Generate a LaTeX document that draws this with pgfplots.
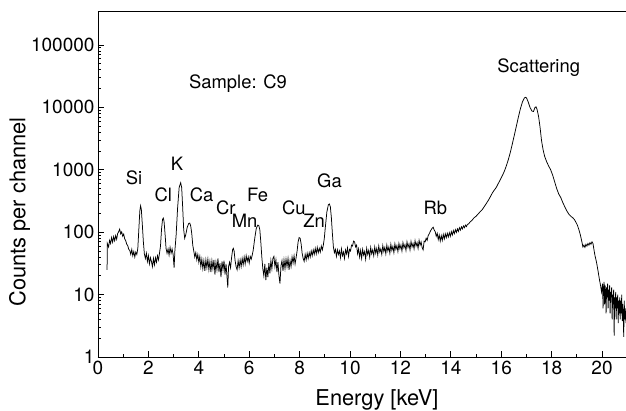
\documentclass[border=0pt]{standalone}
\usepackage{fontspec}
\setmainfont{TeX Gyre Heros}
\usepackage{pgfplots}
\pgfplotsset{compat=1.18}
\newcommand{\tf}{\fontsize{18.4}{22}\selectfont}
\newcommand{\kf}{\fontsize{19}{22}\selectfont}
\newcommand{\lf}{\fontsize{21.8}{25}\selectfont}
\begin{document}
\begin{tikzpicture}
\begin{axis}[
  scale only axis, width=528pt, height=346pt,
  xmin=0, xmax=20.95, ymode=log, ymin=1, ymax=350000,
  axis y line*=left, axis x line*=box,
  xtick pos=left, ytick pos=left,
  tick align=inside,
  major tick length=6pt, minor tick length=3.5pt,
  xtick={0,2,...,20}, minor x tick num=1,
  ytick={1,10,100,1000,10000,100000},
  yticklabels={1,10,100,1000,10000,100000},
  /pgf/number format/assume math mode=true,
  ticklabel style={font=\kf},
  every axis plot/.append style={line width=0.75pt},
  axis line style={line width=0.9pt},
  every tick/.style={line width=0.8pt, black},
  xlabel={Energy [keV]}, ylabel={Counts per channel},
  label style={font=\lf},
  xlabel style={at={(rel axis cs:0.5284,-0.1416)}, anchor=base},
  ylabel style={at={(rel axis cs:-0.1487,0.419)}, anchor=center},
  clip=true,
]
\addplot[black, mark=none] table {
0.36 25
0.37 66
0.42 58
0.46 74
0.50 66
0.54 82
0.58 69
0.62 85
0.66 73
0.70 88
0.74 77
0.78 95
0.82 102
0.86 112
0.90 94
0.94 101
0.98 86
1.02 93
1.06 78
1.10 73
1.14 64
1.18 61
1.22 53
1.26 51
1.30 44
1.34 53
1.38 42
1.42 49
1.46 40
1.50 48
1.54 44
1.58 55
1.62 110
1.66 220
1.69 265
1.72 230
1.76 130
1.80 70
1.84 45
1.88 38
1.92 46
1.96 34
2.00 42
2.04 31
2.08 39
2.12 34
2.16 28
2.20 38
2.24 30
2.28 39
2.32 33
2.36 42
2.40 36
2.44 46
2.48 60
2.52 110
2.56 160
2.59 168
2.62 150
2.66 95
2.70 55
2.74 46
2.78 54
2.82 43
2.86 57
2.90 46
2.94 54
2.98 44
3.02 27
3.05 50
3.10 90
3.16 250
3.22 520
3.28 620
3.32 520
3.36 250
3.40 110
3.44 80
3.48 90
3.54 120
3.60 138
3.64 140
3.68 125
3.72 95
3.76 62
3.80 50
3.84 40
3.88 47
3.92 36
3.96 44
4.00 33
4.04 41
4.08 28
4.12 37
4.16 26
4.20 35
4.24 24
4.28 36
4.32 27
4.36 37
4.40 25
4.44 34
4.48 23
4.52 35
4.56 26
4.60 36
4.64 21
4.68 33
4.72 25
4.76 38
4.80 23
4.84 32
4.88 19
4.92 34
4.96 25
5.00 35
5.04 21
5.08 31
5.12 19
5.15 13
5.18 28
5.22 33
5.26 27
5.30 39
5.34 52
5.37 55
5.40 50
5.44 35
5.48 28
5.52 25
5.56 35
5.60 27
5.64 36
5.68 28
5.72 38
5.76 30
5.80 40
5.84 31
5.88 42
5.92 34
5.96 40
6.00 32
6.04 41
6.08 37
6.12 43
6.16 52
6.22 80
6.28 115
6.34 130
6.38 128
6.42 110
6.46 70
6.50 40
6.54 26
6.58 20
6.62 31
6.66 17
6.70 27
6.74 19
6.78 32
6.82 22
6.86 35
6.90 26
6.94 38
6.98 41
7.02 28
7.06 36
7.10 23
7.14 33
7.18 20
7.22 15
7.26 29
7.30 35
7.34 24
7.38 36
7.42 26
7.46 37
7.50 28
7.54 38
7.58 25
7.62 35
7.66 28
7.70 40
7.74 32
7.78 42
7.82 31
7.86 39
7.90 50
7.94 70
7.98 82
8.02 80
8.06 65
8.10 46
8.14 38
8.18 34
8.22 44
8.26 36
8.30 46
8.34 38
8.38 47
8.42 40
8.46 50
8.50 42
8.54 52
8.58 44
8.62 55
8.66 45
8.70 57
8.74 47
8.78 55
8.82 48
8.86 60
8.90 52
8.94 62
8.98 80
9.02 120
9.08 210
9.14 275
9.18 283
9.22 255
9.26 170
9.30 95
9.34 58
9.38 47
9.42 53
9.46 41
9.50 52
9.54 44
9.58 50
9.62 39
9.66 54
9.70 42
9.74 48
9.78 38
9.82 52
9.86 45
9.90 56
9.94 41
9.98 53
10.02 50
10.06 62
10.10 60
10.14 72
10.18 70
10.22 58
10.26 62
10.30 45
10.34 54
10.38 40
10.42 51
10.46 38
10.50 53
10.54 43
10.58 49
10.62 37
10.66 55
10.70 44
10.74 51
10.78 40
10.82 57
10.86 45
10.90 52
10.94 42
10.98 58
11.02 46
11.06 55
11.10 43
11.14 60
11.18 48
11.22 54
11.26 44
11.30 61
11.34 49
11.38 57
11.42 45
11.46 62
11.50 50
11.54 58
11.58 46
11.62 64
11.66 51
11.70 59
11.74 47
11.78 65
11.82 53
11.86 61
11.90 49
11.94 66
11.98 54
12.02 62
12.06 50
12.10 68
12.14 56
12.18 63
12.22 51
12.26 70
12.30 57
12.34 65
12.38 52
12.42 71
12.46 58
12.50 66
12.54 54
12.58 73
12.62 60
12.66 68
12.70 55
12.74 74
12.78 62
12.82 70
12.86 57
12.90 52
12.94 72
12.98 70
13.02 80
13.06 74
13.10 88
13.14 94
13.20 106
13.26 116
13.30 120
13.34 108
13.38 102
13.42 86
13.46 96
13.50 76
13.54 90
13.58 72
13.62 88
13.66 74
13.70 92
13.74 78
13.78 94
13.82 82
13.86 96
13.90 84
13.94 98
13.98 86
14.02 102
14.06 90
14.10 106
14.14 95
14.18 110
14.22 99
14.26 113
14.30 103
14.34 118
14.38 108
14.42 122
14.46 113
14.50 126
14.54 118
14.58 130
14.62 123
14.66 134
14.70 135
14.76 145
14.84 155
14.92 170
15.00 180
15.08 195
15.16 212
15.24 228
15.32 255
15.40 285
15.48 320
15.56 365
15.64 420
15.72 470
15.80 520
15.88 600
15.96 690
16.04 800
16.12 940
16.20 1150
16.28 1450
16.36 1900
16.44 2600
16.52 3600
16.60 5000
16.68 7000
16.76 9500
16.84 12200
16.92 14200
16.96 14500
17.00 14200
17.06 12500
17.14 10000
17.22 8700
17.28 8600
17.34 10000
17.38 10200
17.42 9300
17.48 7200
17.54 4800
17.60 2900
17.66 2100
17.72 1650
17.80 1350
17.88 1150
17.96 1000
18.04 820
18.12 640
18.20 500
18.28 410
18.36 360
18.44 300
18.52 255
18.60 220
18.68 195
18.76 180
18.84 170
18.90 160
18.96 145
19.02 130
19.08 110
19.14 90
19.20 70
19.24 58
19.28 62
19.32 57
19.36 64
19.40 60
19.44 66
19.48 62
19.52 68
19.56 64
19.60 70
19.64 66
19.68 52
19.72 42
19.78 33
19.84 24
19.90 17
19.94 14
19.98 11
20.02 15
20.04 6
20.06 13
20.08 16
20.10 7
20.12 14
20.14 11
20.16 5
20.18 13
20.20 9
20.22 15
20.24 6
20.26 12
20.28 8
20.30 14
20.32 5
20.34 11
20.36 9
20.38 13
20.40 4
20.42 10
20.44 7
20.46 12
20.48 2.2
20.50 9
20.52 6
20.54 11
20.56 4
20.58 9
20.60 6
20.62 10
20.64 3.5
20.66 8
20.68 5
20.70 9
20.72 4
20.74 8
20.76 5
20.78 10
20.80 3.8
20.82 7
20.84 4.5
20.86 2.1
20.88 8
20.90 4
20.92 6
20.95 3.5
};
\begin{scope}[every node/.style={font=\tf, anchor=base, inner sep=0pt}]
\node at (rel axis cs:0.0682,0.4977) {Si};
\node at (rel axis cs:0.1496,0.538) {K};
\node at (rel axis cs:0.1237,0.4494) {Cl};
\node at (rel axis cs:0.1964,0.4494) {Ca};
\node at (rel axis cs:0.2420,0.4127) {Cr};
\node at (rel axis cs:0.3021,0.4494) {Fe};
\node at (rel axis cs:0.2778,0.3743) {Mn};
\node at (rel axis cs:0.3708,0.4127) {Cu};
\node at (rel axis cs:0.4095,0.3743) {Zn};
\node at (rel axis cs:0.4384,0.4899) {Ga};
\node at (rel axis cs:0.6388,0.4127) {Rb};
\node at (rel axis cs:0.8347,0.8223) {Scattering};
\node at (rel axis cs:0.2652,0.776) {Sample: C9};
\end{scope}
\coordinate (bl) at (rel axis cs:0,0);
\coordinate (tr) at (rel axis cs:1,1);
\end{axis}
\pgfresetboundingbox
\path[use as bounding box] ([xshift=-98pt,yshift=-53pt]bl) rectangle ([yshift=11pt]tr);
\end{tikzpicture}
\end{document}
